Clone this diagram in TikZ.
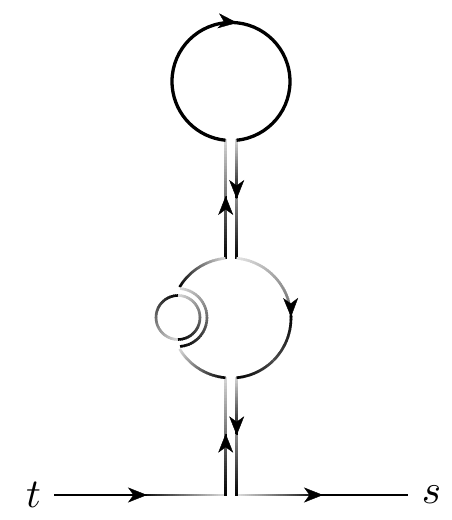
\documentclass[tikz,border=0pt]{standalone}
\usetikzlibrary{arrows.meta}
\tikzset{
  arr/.style={-{Stealth[length=19pt,width=15pt,inset=5.5pt]}, line width=0.4pt, draw=black},
  lbl/.style={inner sep=0pt, scale=4.1},
  strand/.style={line width=2.6pt, line cap=butt},
  topring/.style={line width=3.3pt, draw=black},
}
% gradient straight segment: x1,y1,x2,y2,shade1,shade2
\newcommand\gseg[6]{%
  \foreach \i in {1,...,40}{%
    \pgfmathsetmacro\gC{#5+(#6-#5)*(\i-0.5)/40}%
    \pgfmathsetmacro\gP{(\i-1)/40}%
    \pgfmathsetmacro\gQ{min(\i+0.4,40)/40}%
    \draw[strand, draw=black!\gC] ({#1+(#3-#1)*\gP},{#2+(#4-#2)*\gP}) -- ({#1+(#3-#1)*\gQ},{#2+(#4-#2)*\gQ});
  }%
}
% gradient arc: cx,cy,r,a1,a2,shade1,shade2
\newcommand\garc[7]{%
  \foreach \i in {1,...,36}{%
    \pgfmathsetmacro\gC{#6+(#7-#6)*(\i-0.5)/36}%
    \pgfmathsetmacro\gA{#4+(#5-#4)*(\i-1)/36}%
    \pgfmathsetmacro\gB{#4+(#5-#4)*min(\i+0.4,36)/36}%
    \draw[strand, draw=black!\gC] ({#1+#3*cos(\gA)},{#2+#3*sin(\gA)}) arc[start angle=\gA, end angle=\gB, radius=#3];
  }%
}
% arrow tip at (x,y) pointing along (dx,dy)
\newcommand\tipat[4]{\draw[arr] ({#1-0.5*#3},{#2-0.5*#4}) -- (#1,#2);}
\begin{document}
\begin{tikzpicture}[x=1pt,y=1pt]
\useasboundingbox (0,0) rectangle (452,520);
% labels
\node[lbl] (t) at (33.5,25) {$t$};
\node[lbl] (s) at (431.5,25) {$s$};
\coordinate (tend) at (54,25);
\coordinate (send) at (408,25);
% bottom horizontal lines
\gseg{54}{25}{147}{25}{100}{100}
\gseg{140}{25}{227}{25}{100}{12}
\gseg{236.7}{25}{320}{25}{12}{100}
\gseg{318}{25}{408}{25}{100}{100}
\tipat{147}{25}{1}{0}
\tipat{323}{25}{1}{0}
% lower vertical strands
\gseg{225.7}{143}{225.7}{23.7}{15}{100}
\gseg{236.7}{143}{236.7}{86}{15}{100}
\gseg{236.7}{86}{236.7}{23.7}{45}{100}
\tipat{225.7}{86.3}{0}{1}
\tipat{236.7}{84.7}{0}{-1}
% upper vertical strands
\gseg{225.7}{380.5}{225.7}{261}{15}{100}
\gseg{236.7}{380.5}{236.7}{322}{15}{100}
\gseg{236.7}{322}{236.7}{261}{45}{100}
\tipat{225.7}{324}{0}{1}
\tipat{236.7}{321}{0}{-1}
% middle ring
\garc{231}{202}{60}{95.3}{149}{15}{100}
\garc{231}{202}{60}{84.7}{3}{10}{60}
\garc{231}{202}{60}{3}{-45}{100}{70}
\garc{231}{202}{60}{-45}{-84.7}{70}{100}
\garc{231}{202}{60}{264.7}{211}{100}{15}
\tipat{290.99}{203.05}{0.017}{-1}
% small ring
\garc{178}{202.5}{22}{90}{270}{100}{15}
\garc{178}{202.5}{22}{270}{450}{100}{15}
\garc{178}{202.5}{29}{86}{-86}{15}{100}
% top ring
\coordinate (topc) at (231,438.5);
\draw[topring] (topc) ++(-84.65:59) arc[start angle=-84.65, end angle=264.65, radius=59];
\tipat{237.17}{497.2}{0.995}{-0.105}
\end{tikzpicture}
\end{document}
